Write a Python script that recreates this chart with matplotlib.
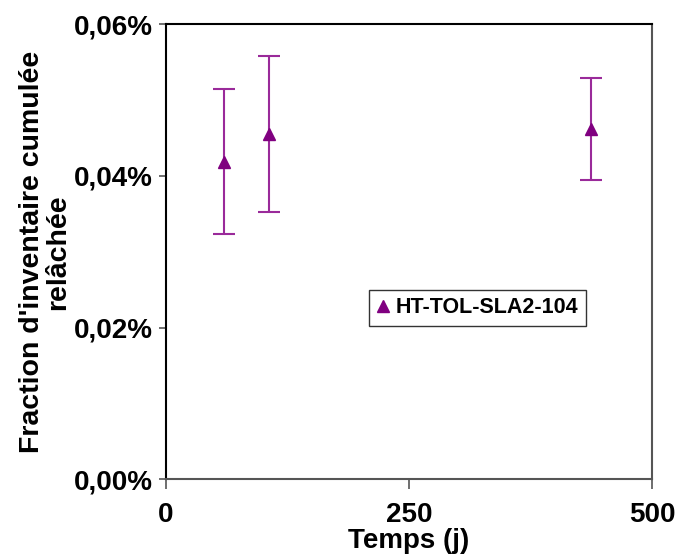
import matplotlib.pyplot as plt
from matplotlib.lines import Line2D
from matplotlib.ticker import FuncFormatter

plt.rcParams['font.family'] = ['Liberation Sans', 'DejaVu Sans']
plt.rcParams['font.weight'] = 'bold'

# data (percent units)
temps = [60, 106, 437]
fraction = [0.04185, 0.0455, 0.0462]
erreur = [0.00955, 0.0103, 0.0067]
serie = "HT-TOL-SLA2-104"

x_ticks = [0, 250, 500]
y_ticks = [0.0, 0.02, 0.04, 0.06]

fig = plt.figure(figsize=(6.76, 5.56), dpi=100)
ax = fig.add_axes([0.245, 0.1376, 0.7195, 0.8192])

ax.errorbar(temps, fraction, yerr=erreur, fmt='^', color='#800080',
            ecolor='#9a2a9a', elinewidth=1.5, capsize=8, capthick=1.5,
            markersize=9)

ax.set_xlim(0, 500)
ax.set_ylim(0, 0.06)
ax.set_xticks(x_ticks)
ax.set_yticks(y_ticks)
ax.yaxis.set_major_formatter(FuncFormatter(lambda v, p: f"{v:.2f}%".replace('.', ',')))

ax.tick_params(axis='both', direction='out', labelsize=20, width=1.2, colors='#555555',
               labelcolor='black')
ax.tick_params(axis='y', length=5, pad=4)
ax.tick_params(axis='x', length=7, pad=9)

for side in ['left', 'top']:
    ax.spines[side].set_color('black')
    ax.spines[side].set_linewidth(1.5)
for side in ['right', 'bottom']:
    ax.spines[side].set_color('#555555')
    ax.spines[side].set_linewidth(1.5)

ax.set_xlabel("Temps (j)", fontsize=20, fontweight='bold')
ax.xaxis.set_label_coords(0.5, -0.107)
ax.set_ylabel("Fraction d'inventaire cumulée\nrelâchée", fontsize=20.5,
              fontweight='bold', labelpad=2, linespacing=1.0)

handle = Line2D([], [], marker='^', linestyle='none', color='#800080', markersize=8)
leg = ax.legend([handle], [serie], loc='lower left', bbox_to_anchor=(0.418, 0.337),
                fontsize=15.5, frameon=True, fancybox=False, shadow=False,
                handlelength=0.6, handletextpad=0.3, borderpad=0.35, borderaxespad=0)
leg.get_frame().set_edgecolor('black')
leg.get_frame().set_linewidth(1.0)

fig.savefig("out.png", dpi=100)
